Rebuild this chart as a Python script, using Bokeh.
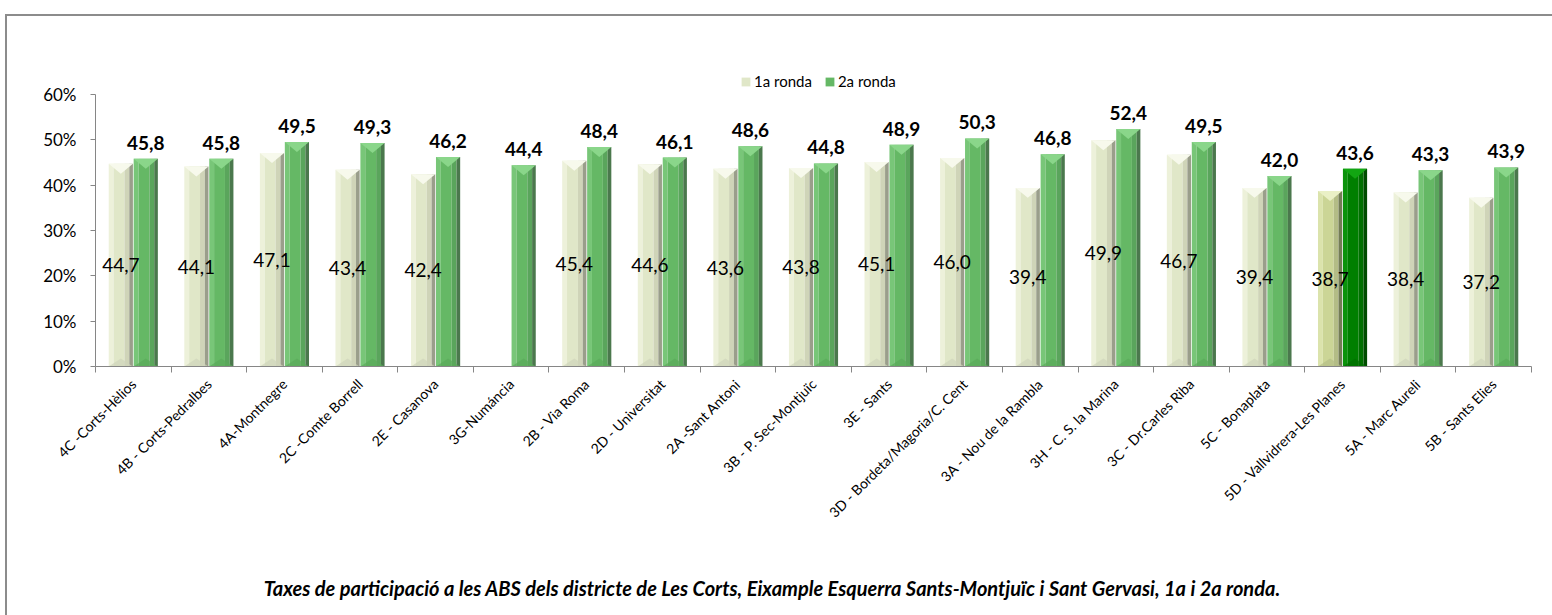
import math
from bokeh.plotting import figure
from bokeh.layouts import column
from bokeh.models import (Range1d, FixedTicker, LinearAxis, Legend, LegendItem,
                          ColumnDataSource, Div)
from bokeh.core.properties import value
from bokeh.embed import file_html
from bokeh.resources import INLINE

# ---------------- data ----------------
categories = [
    "4C -Corts-Hèlios", "4B - Corts-Pedralbes", "4A-Montnegre", "2C -Comte Borrell",
    "2E - Casanova", "3G-Numáncia", "2B - Via Roma", "2D - Universitat",
    "2A -Sant Antoni", "3B - P. Sec-Montjuïc", "3E - Sants", "3D - Bordeta/Magoria/C. Cent",
    "3A - Nou de la Rambla", "3H - C. S. la Marina", "3C - Dr.Carles Riba", "5C - Bonaplata",
    "5D - Vallvidrera-Les Planes", "5A - Marc Aureli", "5B - Sants Elies",
]
ronda1 = [44.7, 44.1, 47.1, 43.4, 42.4, None, 45.4, 44.6, 43.6, 43.8, 45.1, 46.0,
          39.4, 49.9, 46.7, 39.4, 38.7, 38.4, 37.2]
ronda2 = [45.8, 45.8, 49.5, 49.3, 46.2, 44.4, 48.4, 46.1, 48.6, 44.8, 48.9, 50.3,
          46.8, 52.4, 49.5, 42.0, 43.6, 43.3, 43.9]
highlight = "5D - Vallvidrera-Les Planes"
series_names = ["1a ronda", "2a ronda"]
y_ticks = [0, 10, 20, 30, 40, 50, 60]
caption = ("Taxes de participació a les ABS dels districte de Les Corts, Eixample Esquerra "
           "Sants-Montjuïc i Sant Gervasi, 1a i 2a ronda.")

FONT = "Lato"

# ---------------- styles ----------------
BAR_W = 0.32
OFFSETS = [-0.165, 0.165]
PAL = {
    (0, False): (["#edf1da", "#e0e7c8", "#cfd4b8", "#9a9e8b"], "#f7f9ec", "#cfd4bb"),
    (1, False): (["#78c678", "#65b865", "#5aa55c", "#4b784d"], "#8ad68a", "#5aa95a"),
    (0, True): (["#dbe3ac", "#cbd596", "#b3bc86", "#747c56"], "#eaf0c6", "#b3bd86"),
    (1, True): (["#0b930b", "#007f00", "#007000", "#004c00"], "#12a612", "#006f00"),
}
STRIPS = [(0.0, 0.2), (0.2, 0.65), (0.65, 0.85), (0.85, 1.0)]
BEVEL = 2.2
Y_TOP = 67.5   # extra headroom above 60% holds the legend

p = figure(width=1545, height=525, x_range=Range1d(-0.5, len(categories) - 0.5),
           y_range=Range1d(0, Y_TOP), output_backend="svg", toolbar_location=None,
           min_border_left=88, min_border_right=21, min_border_top=44, min_border_bottom=175)
p.outline_line_color = None
p.xgrid.visible = False
p.ygrid.visible = False

legend_renderers = []
label_specs = []
for s, vals in enumerate([ronda1, ronda2]):
    idx = [i for i, v in enumerate(vals) if v is not None]
    xs = [i + OFFSETS[s] for i in idx]
    tops = [vals[i] for i in idx]
    hl = [categories[i] == highlight for i in idx]
    main_r = None
    for k, (a, b) in enumerate(STRIPS):
        src = ColumnDataSource(dict(
            x=[x - BAR_W / 2 + BAR_W * (a + b) / 2 for x in xs],
            top=tops,
            color=[PAL[(s, h)][0][k] for h in hl],
        ))
        r = p.vbar(x="x", top="top", bottom=0, width=BAR_W * (b - a), source=src,
                   fill_color="color", line_color=None)
        if k == 1:
            main_r = r
    legend_renderers.append(main_r)
    tri_src = ColumnDataSource(dict(
        xs=[[x - BAR_W / 2, x + BAR_W / 2, x] for x in xs],
        ys=[[t, t, t - BEVEL] for t in tops],
        color=[PAL[(s, h)][1] for h in hl],
    ))
    p.patches("xs", "ys", source=tri_src, fill_color="color", line_color=None)
    bot_src = ColumnDataSource(dict(
        xs=[[x - BAR_W / 2, x + BAR_W / 2, x] for x in xs],
        ys=[[0, 0, BEVEL * 0.8] for t in tops],
        color=[PAL[(s, h)][2] for h in hl],
    ))
    p.patches("xs", "ys", source=bot_src, fill_color="color", line_color=None, fill_alpha=0.7)
    label_specs.append((xs, tops))

# data labels drawn after all bars
xs0, tops0 = label_specs[0]
p.text(x="x", y="y", text="text",
       source=ColumnDataSource(dict(x=xs0, y=[t / 2 for t in tops0],
                                    text=[f"{v:.1f}".replace(".", ",") for v in tops0])),
       text_font=value(FONT), text_font_size="19px", text_align="center",
       text_baseline="middle", text_color="black")
xs1, tops1 = label_specs[1]
p.text(x="x", y="y", text="text",
       source=ColumnDataSource(dict(x=xs1, y=tops1,
                                    text=[f"{v:.1f}".replace(".", ",") for v in tops1])),
       text_font=value(FONT), text_font_size="19px", text_font_style="bold",
       text_align="center", text_baseline="alphabetic", y_offset=-16, text_color="black")

# ---------------- axes ----------------
AX = "#868686"
p.yaxis.ticker = FixedTicker(ticks=y_ticks)
p.yaxis.bounds = (0, 60)
p.yaxis.major_label_overrides = {t: f"{t}%" for t in y_ticks}
p.yaxis.axis_line_color = AX
p.yaxis.major_tick_line_color = AX
p.yaxis.major_tick_out = 5
p.yaxis.major_tick_in = 0
p.yaxis.minor_tick_line_color = None
p.yaxis.major_label_text_font = FONT
p.yaxis.major_label_text_font_size = "17px"
p.yaxis.major_label_text_color = "black"
p.yaxis.major_label_standoff = 14

p.xaxis.ticker = FixedTicker(ticks=[i - 0.5 for i in range(len(categories) + 1)])
p.xaxis.axis_line_color = AX
p.xaxis.major_tick_line_color = AX
p.xaxis.major_tick_out = 6
p.xaxis.major_tick_in = 0
p.xaxis.minor_tick_line_color = None
p.xaxis.major_label_text_font_size = "1px"
p.xaxis.major_label_text_color = None
p.xaxis.major_label_standoff = 0

xlab = LinearAxis(ticker=FixedTicker(ticks=list(range(len(categories)))),
                  major_label_overrides={i: c for i, c in enumerate(categories)},
                  major_label_orientation=math.pi / 4,
                  axis_line_color=None, major_tick_line_color=None, minor_tick_line_color=None,
                  major_label_text_font=FONT, major_label_text_font_size="14px",
                  major_label_text_color="black", major_label_standoff=3)
p.add_layout(xlab, "below")

# ---------------- legend ----------------
legend = Legend(items=[LegendItem(label=series_names[0], renderers=[legend_renderers[0]], index=0),
                       LegendItem(label=series_names[1], renderers=[legend_renderers[1]], index=0)],
                orientation="horizontal", location=(645, 276),
                label_text_font=FONT, label_text_font_size="15px", label_text_color="black",
                glyph_width=11, glyph_height=11, label_standoff=3, spacing=12,
                padding=2, margin=0, border_line_color=None, background_fill_alpha=0)
p.add_layout(legend)

# ---------------- caption ----------------
cap = Div(text=caption, width=1520, height=74,
          styles={"font-family": FONT, "font-size": "20px", "font-weight": "bold",
                  "font-style": "italic", "text-align": "center", "color": "black",
                  "padding-top": "28px", "box-sizing": "border-box"})

layout = column(p, cap, spacing=0)
layout.styles = {"margin-left": "5px", "margin-top": "14px",
                 "border-left": "2px solid #8c8c8c", "border-top": "2px solid #8c8c8c"}

open("out.html", "w").write(file_html(layout, INLINE))
